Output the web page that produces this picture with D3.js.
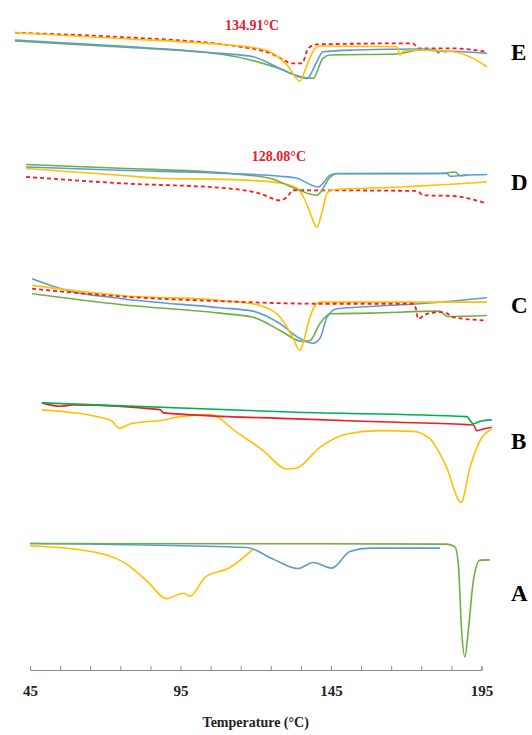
<!DOCTYPE html>
<html>
<head>
<meta charset="utf-8">
<script src="https://cdn.jsdelivr.net/npm/d3@7"></script>
<style>
  html, body { margin: 0; padding: 0; background: #fff; }
  svg { display: block; }
  .panel-label { font-family: "Liberation Serif", "DejaVu Serif", serif; font-weight: bold; font-size: 23px; fill: #000; }
  .peak-label { font-family: "Liberation Serif", "DejaVu Serif", serif; font-weight: bold; font-size: 14px; fill: #e8202a; }
  .axis text { font-family: "Liberation Serif", "DejaVu Serif", serif; font-weight: bold; font-size: 15px; fill: #222; }
  .axis path, .axis line { stroke: #8a8a8a; }
  .axis-title { font-family: "Liberation Serif", "DejaVu Serif", serif; font-weight: bold; font-size: 14px; fill: #222; }
</style>
</head>
<body>
<div class="graph"></div>
<script>
const width = 532;
const height = 735;
const margin = { left: 30, right: 50.5, top: 18, bottom: 66 };

/* temperature ticks */
const tempTicks = d3.range(45, 196, 10);
const labelTicks = [45, 95, 145, 195];

/* panel letters and their heat-flow baseline (a.u.) */
const panelNames = ["E", "D", "C", "B", "A"];
const panelLevels = [61.6, 48.6, 36.3, 22.8, 7.6];

/* peak annotations */
const peakTexts = ["134.91°C", "128.08°C"];
const peakTemps = [118.8, 127.7];
const peakLevels = [64.3, 51.2];

/* ---- data: [temperature °C, heat flow a.u.] ---- */
// E
const eYellow = [[40.0,63.53],[74.9,62.95],[108.1,62.37],[118.1,62.1],[124.7,61.63],[130.4,60.3],[134.7,58.7],[137.0,60.3],[139.7,61.97],[141.3,62.2],[166.9,62.13],[167.9,61.3],[168.9,61.7],[174.6,61.8],[185.5,61.63],[192.2,60.97],[196.8,60.13]];
const eRed = [[40.0,63.53],[74.9,63.1],[108.1,62.4],[114.8,62.13],[124.7,61.5],[130.4,60.63],[131.4,60.47],[135.4,60.47],[137.4,61.97],[140.3,62.37],[172.2,62.47],[173.9,61.97],[185.5,61.97],[196.8,61.63]];
const eBlue = [[40.0,62.8],[74.9,62.2],[108.1,61.47],[119.1,61.13],[128.1,59.97],[137.0,58.97],[140.3,60.63],[142.3,61.63],[152.3,61.8],[174.6,61.9],[179.9,61.8],[180.5,61.5],[181.5,61.7],[196.8,61.47]];
const eGreen = [[40.0,62.7],[74.9,62.1],[108.1,61.4],[128.1,59.9],[133.0,59.3],[139.0,58.97],[142.3,60.97],[144.7,61.3],[166.9,61.4],[174.6,61.8],[183.5,61.6]];
// D
const dGreen = [[43.7,50.37],[74.9,50.0],[111.4,49.47],[124.7,49.0],[133.7,47.9],[140.3,47.3],[141.3,47.53],[144.7,49.1],[147.0,49.45],[181.2,49.47],[186.2,49.63],[187.9,49.25],[190.2,49.3]];
const dBlue = [[43.7,50.13],[74.9,49.8],[111.4,49.47],[128.1,49.2],[133.7,49.0],[140.7,48.13],[144.7,49.3],[147.0,49.47],[183.5,49.47],[184.5,49.2],[188.9,49.3],[196.8,49.37]];
const dYellow = [[43.7,49.97],[74.9,49.3],[88.2,49.0],[111.4,48.87],[128.1,48.53],[133.7,48.0],[136.4,46.8],[138.0,45.6],[140.3,44.1],[142.0,45.6],[143.7,47.5],[145.7,47.87],[163.6,48.07],[196.8,48.63]];
const dRed = [[43.7,49.13],[74.9,48.5],[111.4,47.97],[121.4,47.47],[128.1,46.8],[130.4,47.13],[132.4,47.8],[173.6,47.73],[175.6,47.3],[185.5,47.23],[196.8,46.47]];
// C
const cBlue = [[45.7,38.97],[57.3,37.8],[74.9,37.0],[108.1,36.07],[119.1,35.73],[128.1,34.47],[134.7,33.0],[139.0,32.53],[141.3,33.0],[143.7,35.13],[147.0,35.97],[158.0,36.2],[174.6,36.47],[196.8,37.07]];
const cYellow = [[45.7,38.3],[74.9,37.3],[108.1,36.8],[121.4,36.3],[128.1,35.13],[132.0,33.3],[134.7,31.8],[136.0,32.8],[137.4,34.5],[139.7,36.3],[141.3,36.63],[196.8,36.63]];
const cGreen = [[45.7,37.47],[74.9,36.4],[108.1,35.53],[119.1,35.13],[128.1,33.8],[135.4,32.7],[138.0,32.8],[141.3,34.47],[144.7,35.47],[158.0,35.53],[181.2,35.73],[183.5,35.2],[196.8,35.3]];
const cRed = [[45.7,37.97],[74.9,37.2],[108.1,36.73],[141.3,36.47],[172.2,36.47],[173.2,36.0],[173.9,34.97],[176.9,35.47],[181.2,35.63],[183.5,35.5],[185.5,35.13],[196.8,34.8]];
// B
const bGreen = [[48.9,26.57],[133.6,25.63],[190.1,25.2],[192.3,24.47],[194.5,24.73],[198.4,24.87]];
const bRed = [[48.9,26.57],[55.0,26.23],[59.4,26.37],[88.2,25.9],[89.3,25.57],[133.6,24.97],[155.6,24.73],[190.1,24.4],[192.3,24.37],[193.4,23.8],[195.6,23.97],[198.4,24.13]];
const bYellow = [[48.9,25.87],[71.6,24.87],[74.9,24.03],[78.2,24.47],[89.3,24.87],[94.8,25.2],[104.8,25.4],[113.7,23.63],[122.5,21.8],[130.3,19.97],[133.6,20.07],[141.3,22.13],[150.2,23.47],[161.3,23.8],[172.3,23.73],[177.9,22.97],[183.4,20.13],[188.2,16.63],[191.2,20.13],[194.5,22.8],[198.4,23.97]];
// A
const aGreen = [[45.0,12.53],[183.4,12.47],[186.2,12.2],[187.3,10.47],[188.4,3.8],[189.5,1.2],[190.6,3.8],[192.3,8.8],[194.5,10.87],[197.8,10.9]];
const aBlue = [[45.0,12.53],[117.0,12.13],[125.8,10.97],[134.1,10.03],[139.1,10.63],[145.2,10.07],[151.3,11.73],[158.0,12.07],[181.2,12.07]];
const aYellow = [[45.0,12.3],[63.8,11.8],[77.1,10.47],[83.8,8.8],[90.4,7.03],[95.9,7.57],[98.2,7.27],[103.1,9.13],[111.4,10.13],[119.2,11.97]];

const yellow = "#ffc000", blue = "#5b9bd5", green = "#70ad47", red = "#ff1a1a";
const series = [
  { data: eRed, color: red, dash: "4,3" },
  { data: eGreen, color: green },
  { data: eBlue, color: blue },
  { data: eYellow, color: yellow },
  { data: dRed, color: red, dash: "4,3" },
  { data: dYellow, color: yellow },
  { data: dGreen, color: green },
  { data: dBlue, color: blue },
  { data: cGreen, color: green },
  { data: cBlue, color: blue },
  { data: cYellow, color: yellow },
  { data: cRed, color: red, dash: "4,3" },
  { data: bYellow, color: yellow },
  { data: bRed, color: "#ee1c24" },
  { data: bGreen, color: "#00b050" },
  { data: aYellow, color: yellow },
  { data: aBlue, color: blue },
  { data: aGreen, color: green }
];

const svg = d3.select(".graph").append("svg")
  .attr("width", width)
  .attr("height", height);

const x = d3.scaleLinear().domain([45, 195]).range([margin.left, width - margin.right]);
const y = d3.scaleLinear().domain([0, 65]).range([height - margin.bottom, margin.top]);

const line = d3.line()
  .x(d => x(d[0]))
  .y(d => y(d[1]))
  .curve(d3.curveMonotoneX);

svg.append("g")
  .selectAll("path")
  .data(series)
  .enter().append("path")
  .attr("d", d => line(d.data))
  .attr("fill", "none")
  .attr("stroke", d => d.color)
  .attr("stroke-width", d => d.dash ? 1.8 : 1.6)
  .attr("stroke-dasharray", d => d.dash || null)
  .attr("stroke-linejoin", "round");

/* x axis */
const axis = svg.append("g")
  .attr("class", "axis")
  .attr("transform", "translate(0," + (height - margin.bottom + 1) + ")")
  .call(d3.axisBottom(x)
    .tickValues(tempTicks)
    .tickSizeInner(-4)
    .tickSizeOuter(-4)
    .tickPadding(12)
    .tickFormat(d => labelTicks.includes(d) ? d : ""));
axis.selectAll("text").attr("dy", "0.9em");

svg.append("text")
  .attr("class", "axis-title")
  .attr("x", x(120))
  .attr("y", height - 8)
  .attr("text-anchor", "middle")
  .text("Temperature (°C)");

/* panel letters */
svg.append("g")
  .selectAll("text")
  .data(panelNames)
  .enter().append("text")
  .attr("class", "panel-label")
  .attr("x", 511)
  .attr("y", (d, i) => y(panelLevels[i]))
  .attr("dy", "0.35em")
  .text(d => d);

/* peak labels */
svg.append("g")
  .selectAll("text")
  .data(peakTexts)
  .enter().append("text")
  .attr("class", "peak-label")
  .attr("x", (d, i) => x(peakTemps[i]))
  .attr("y", (d, i) => y(peakLevels[i]))
  .attr("dy", "0.35em")
  .attr("text-anchor", "middle")
  .text(d => d);
</script>
</body>
</html>
